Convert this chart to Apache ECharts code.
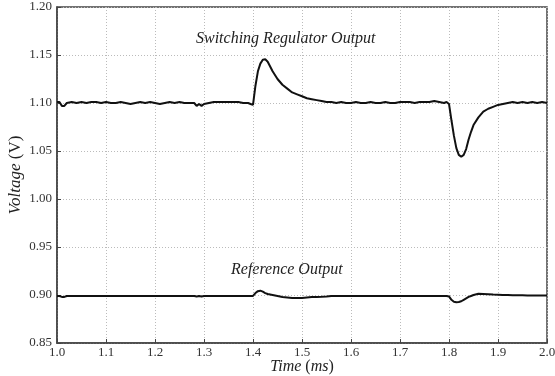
<!DOCTYPE html>
<html>
<head>
    <meta charset="utf-8">
    <title>Voltage</title>
    <script src="https://cdn.jsdelivr.net/npm/echarts@6/dist/echarts.min.js"></script>
    <style>
        html, body { margin: 0; padding: 0; background: #fff; }
    </style>
</head>
<body>
    <div id="main" style="width: 555px;height:376px;"></div>
    <script type="text/javascript">
        // time axis (ms), finer steps around the load transients
        var times = [
            1.000,1.005,1.010,1.015,1.020,1.030,1.040,1.050,1.060,1.070,
            1.080,1.090,1.100,1.110,1.120,1.130,1.140,1.150,1.160,1.170,
            1.180,1.190,1.200,1.210,1.220,1.230,1.240,1.250,1.260,1.270,
            1.280,1.285,1.290,1.295,1.300,1.310,1.320,1.330,1.340,1.350,
            1.360,1.370,1.380,1.390,1.395,1.400,1.405,1.410,1.415,1.420,
            1.425,1.430,1.440,1.450,1.460,1.470,1.480,1.490,1.500,1.510,
            1.520,1.530,1.540,1.550,1.560,1.570,1.580,1.590,1.600,1.610,
            1.620,1.630,1.640,1.650,1.660,1.670,1.680,1.690,1.700,1.710,
            1.720,1.730,1.740,1.750,1.760,1.770,1.780,1.790,1.795,1.800,
            1.805,1.810,1.815,1.820,1.825,1.830,1.835,1.840,1.845,1.850,
            1.860,1.870,1.880,1.890,1.900,1.910,1.920,1.930,1.940,1.950,
            1.960,1.970,1.980,1.990,2.000
        ];
        // switching regulator output (V)
        var switchingOut = [
            1.101,1.101,1.097,1.097,1.100,1.101,1.100,1.101,1.100,1.101,
            1.101,1.100,1.101,1.100,1.100,1.101,1.100,1.099,1.100,1.101,
            1.100,1.101,1.100,1.099,1.100,1.101,1.100,1.101,1.100,1.100,
            1.100,1.097,1.099,1.097,1.099,1.100,1.101,1.101,1.101,1.101,
            1.101,1.101,1.100,1.100,1.099,1.098,1.118,1.133,1.141,1.145,
            1.1455,1.143,1.133,1.125,1.119,1.115,1.111,1.109,1.107,1.105,
            1.104,1.103,1.102,1.101,1.101,1.100,1.101,1.100,1.100,1.101,
            1.100,1.100,1.101,1.100,1.100,1.101,1.100,1.100,1.101,1.101,
            1.101,1.100,1.101,1.101,1.101,1.102,1.101,1.100,1.101,1.099,
            1.082,1.066,1.053,1.046,1.044,1.046,1.052,1.062,1.070,1.077,
            1.085,1.091,1.094,1.096,1.098,1.099,1.100,1.101,1.100,1.101,
            1.100,1.101,1.100,1.101,1.100
        ];
        // reference output (V)
        var referenceOut = [
            0.899,0.899,0.898,0.898,0.899,0.899,0.899,0.899,0.899,0.899,
            0.899,0.899,0.899,0.899,0.899,0.899,0.899,0.899,0.899,0.899,
            0.899,0.899,0.899,0.899,0.899,0.899,0.899,0.899,0.899,0.899,
            0.899,0.8985,0.899,0.8985,0.899,0.899,0.899,0.899,0.899,0.899,
            0.899,0.899,0.899,0.899,0.899,0.899,0.902,0.904,0.9045,0.9035,
            0.902,0.901,0.900,0.899,0.898,0.8975,0.897,0.897,0.897,0.8975,
            0.898,0.898,0.8982,0.8985,0.899,0.899,0.899,0.899,0.899,0.899,
            0.899,0.899,0.899,0.899,0.899,0.899,0.899,0.899,0.899,0.899,
            0.899,0.899,0.899,0.899,0.899,0.899,0.899,0.899,0.899,0.8985,
            0.895,0.893,0.8925,0.8927,0.8935,0.895,0.8965,0.898,0.899,0.900,
            0.9012,0.901,0.9008,0.9005,0.9003,0.900,0.900,0.8998,0.8997,0.8997,
            0.8996,0.8996,0.8995,0.8995,0.8995
        ];

        var serif = 'Liberation Serif';
        var myChart = echarts.init(document.getElementById('main'));

        var option = {
            backgroundColor: '#fff',
            animation: false,
            grid: {
                left: 57, right: 8, top: 7, bottom: 33,
                outerBoundsMode: 'none',
                show: true, borderColor: '#444', borderWidth: 1.5
            },
            xAxis: {
                type: 'value', min: 1.0, max: 2.0, interval: 0.1,
                name: '{i|Time} ({i|ms})',
                nameLocation: 'middle', nameGap: 16, nameMoveOverlap: false,
                nameTextStyle: {
                    fontFamily: serif, fontSize: 16, color: '#222',
                    rich: { i: { fontFamily: serif, fontStyle: 'italic', fontSize: 16, color: '#222' } }
                },
                axisLine: { lineStyle: { color: '#444', width: 1.5 } },
                axisTick: { inside: true, length: 4, lineStyle: { color: '#444' } },
                axisLabel: {
                    fontFamily: serif, fontSize: 13, color: '#333', margin: 3,
                    formatter: function (v) { return v.toFixed(1); }
                },
                splitLine: { show: true, lineStyle: { color: '#bbb', type: [1, 2], width: 1 } }
            },
            yAxis: {
                type: 'value', min: 0.85, max: 1.20, interval: 0.05,
                name: '{i|Voltage} (V)',
                nameLocation: 'middle', nameGap: 33, nameMoveOverlap: false,
                nameTextStyle: {
                    fontFamily: serif, fontSize: 17, color: '#222',
                    rich: { i: { fontFamily: serif, fontStyle: 'italic', fontSize: 17, color: '#222' } }
                },
                axisLine: { lineStyle: { color: '#444', width: 1.5 } },
                axisTick: { inside: true, length: 4, lineStyle: { color: '#444' } },
                axisLabel: {
                    fontFamily: serif, fontSize: 13, color: '#333', margin: 5,
                    formatter: function (v) { return v.toFixed(2); }
                },
                splitLine: { show: true, lineStyle: { color: '#bbb', type: [1, 2], width: 1 } }
            },
            graphic: [
                {
                    type: 'text', left: 196, top: 31,
                    style: { text: 'Switching Regulator Output', font: 'italic 16px "Liberation Serif"', fill: '#222' }
                },
                {
                    type: 'text', left: 231, top: 262,
                    style: { text: 'Reference Output', font: 'italic 16px "Liberation Serif"', fill: '#222' }
                }
            ],
            series: [
                {
                    name: 'Switching Regulator Output', type: 'line', showSymbol: false,
                    lineStyle: { color: '#111', width: 2 },
                    data: times.map(function (t, i) { return [t, switchingOut[i]]; })
                },
                {
                    name: 'Reference Output', type: 'line', showSymbol: false,
                    lineStyle: { color: '#111', width: 2 },
                    data: times.map(function (t, i) { return [t, referenceOut[i]]; })
                }
            ]
        };
        myChart.setOption(option);
    </script>
</body>
</html>
